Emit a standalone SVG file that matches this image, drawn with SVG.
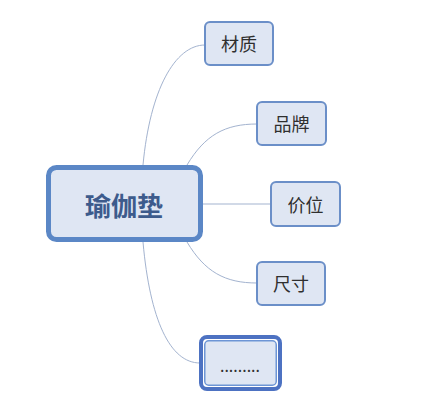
<svg xmlns="http://www.w3.org/2000/svg" width="428" height="406" viewBox="0 0 428 406">
<style>
.conn{fill:none;stroke:#a3b3cf;stroke-width:1}
.leaf{fill:#dfe6f3;stroke:#6b8fc8;stroke-width:2}
.lt{font-family:"Noto Sans CJK SC","Liberation Sans",sans-serif;font-size:18px;fill:#2f2f2f;text-anchor:middle;dominant-baseline:central}
</style>
<rect width="428" height="406" fill="#ffffff"/>
<g id="connectors">
<path class="conn" d="M143,165 C150,90 175,45 205,45"/>
<path class="conn" d="M187,165 C205,135 225,124 257,124"/>
<path class="conn" d="M203,204 L271,204"/>
<path class="conn" d="M187,242 C205,272 225,283 257,283"/>
<path class="conn" d="M143,242 C150,320 170,363 200,363"/>
</g>
<g id="root">
<rect x="48.5" y="167.5" width="152" height="72" rx="8" fill="#dfe6f3" stroke="#5b87c6" stroke-width="5"/>
<text x="124" y="204" font-family="'Noto Sans CJK SC','Liberation Sans',sans-serif" font-size="26" font-weight="bold" fill="#3d5b8c" text-anchor="middle" dominant-baseline="central">瑜伽垫</text>
</g>
<g id="n1">
<rect class="leaf" x="205" y="22" width="68" height="43" rx="5"/>
<text class="lt" x="239" y="43">材质</text>
</g>
<g id="n2">
<rect class="leaf" x="257" y="102" width="69" height="43" rx="5"/>
<text class="lt" x="291.5" y="123">品牌</text>
</g>
<g id="n3">
<rect class="leaf" x="271" y="182" width="69" height="44" rx="5"/>
<text class="lt" x="305.5" y="203.5">价位</text>
</g>
<g id="n4">
<rect class="leaf" x="257" y="262" width="68" height="43" rx="5"/>
<text class="lt" x="291" y="283">尺寸</text>
</g>
<g id="n5">
<rect x="201" y="337" width="79" height="52" rx="6" fill="#ffffff" stroke="#4d72c2" stroke-width="4"/>
<rect x="204.75" y="340.75" width="71.5" height="44.5" rx="4" fill="#dfe6f3" stroke="#6d95d5" stroke-width="1.5"/>
<text x="240" y="365" font-family="'Noto Sans CJK SC','Liberation Sans',sans-serif" font-size="16" fill="#2f2f2f" text-anchor="middle" dominant-baseline="central">.........</text>
</g>
</svg>
